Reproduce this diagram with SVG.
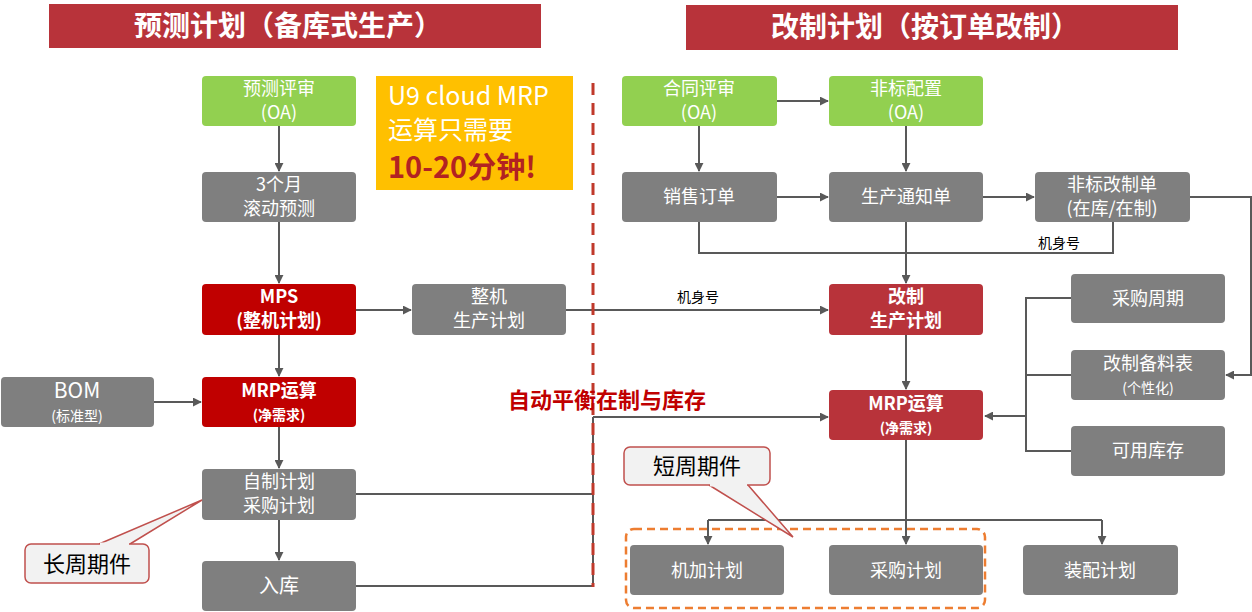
<svg xmlns="http://www.w3.org/2000/svg" width="1252" height="612" viewBox="0 0 1252 612">
<defs>
<marker id="ah" viewBox="0 0 10 10" refX="9" refY="5" markerWidth="4.5" markerHeight="4.5" orient="auto"><path d="M0,0 L10,5 L0,10 z" fill="#595959"/></marker>
<style>
text{font-family:"Noto Sans CJK SC","Liberation Sans",sans-serif;text-anchor:middle}
.g{fill:#7f7f7f}
.gr{fill:#92d050}
.r1{fill:#c00000}
.r2{fill:#b8333a}
.t{fill:#fff;font-size:18px}
.tb{fill:#fff;font-size:18px;font-weight:bold}
.ts{fill:#fff;font-size:14px}
.tsb{fill:#fff;font-size:14px;font-weight:bold}
.c{fill:none;stroke:#595959;stroke-width:2}
.a{marker-end:url(#ah)}
.lbl{fill:#000;font-size:14px}
.title{fill:#fff;font-size:28px;font-weight:bold}
</style>
</defs>
<rect width="1252" height="612" fill="#fff"/>
<g id="title-left"><rect x="49" y="4" width="492" height="44" fill="#b8333a"/><text class="title" x="288" y="36">预测计划（备库式生产）</text></g>
<g id="title-right"><rect x="686" y="5" width="492" height="45" fill="#b8333a"/><text class="title" x="925" y="37">改制计划（按订单改制）</text></g>

<g id="connectors">
<line class="c a" x1="279" y1="126" x2="279" y2="171"/>
<line class="c a" x1="279" y1="222" x2="279" y2="283"/>
<line class="c a" x1="279" y1="335" x2="279" y2="376"/>
<line class="c a" x1="279" y1="427" x2="279" y2="468"/>
<line class="c a" x1="279" y1="520" x2="279" y2="560"/>
<line class="c a" x1="356" y1="310" x2="411" y2="310"/>
<line class="c a" x1="154" y1="402" x2="201" y2="402"/>
<line class="c a" x1="566" y1="310" x2="828" y2="310"/>
<polyline class="c" points="356,494 593,494"/>
<polyline class="c" points="356,586 593,586 593,417"/>
<line class="c a" x1="593" y1="417" x2="828" y2="417"/>
<line class="c a" x1="777" y1="101" x2="828" y2="101"/>
<line class="c a" x1="699" y1="126" x2="699" y2="171"/>
<line class="c a" x1="906" y1="126" x2="906" y2="171"/>
<line class="c a" x1="777" y1="197" x2="828" y2="197"/>
<line class="c a" x1="983" y1="197" x2="1034" y2="197"/>
<polyline class="c" points="699,222 699,253 1113,253 1113,222"/>
<line class="c a" x1="906" y1="222" x2="906" y2="283"/>
<polyline class="c a" points="1190,197 1251,197 1251,375 1226,375"/>
<line class="c a" x1="906" y1="335" x2="906" y2="389"/>
<polyline class="c" points="1071,298 1026,298 1026,451 1071,451"/>
<line class="c" x1="1071" y1="375" x2="1026" y2="375"/>
<line class="c a" x1="1026" y1="416" x2="985" y2="416"/>
<line class="c a" x1="906" y1="440" x2="906" y2="544"/>
<polyline class="c a" points="708,520 708,544"/>
<line class="c" x1="708" y1="520" x2="1102" y2="520"/>
<line class="c a" x1="1102" y1="520" x2="1102" y2="544"/>
<text class="lbl" x="698" y="302">机身号</text>
<text class="lbl" x="1059" y="248">机身号</text>
</g>

<line x1="593" y1="83" x2="593" y2="587" stroke="#c0392b" stroke-width="3" stroke-dasharray="12,8"/>

<g id="yellow-note"><rect x="376" y="76" width="197" height="114" fill="#ffc000"/>
<text x="388" y="105" style="text-anchor:start;fill:#fff;font-size:25px">U9 cloud MRP</text>
<text x="388" y="139" style="text-anchor:start;fill:#fff;font-size:25px">运算只需要</text>
<text x="388" y="178" style="text-anchor:start;fill:#b22222;font-size:29px;font-weight:bold">10-20分钟!</text></g>

<g id="n-yc"><rect class="gr" x="202" y="76" width="154" height="50" rx="4"/><text class="t" x="279" y="95">预测评审</text><text class="t" x="279" y="119">(OA)</text></g>
<g id="n-3m"><rect class="g" x="202" y="172" width="154" height="50" rx="4"/><text class="t" x="279" y="191">3个月</text><text class="t" x="279" y="215">滚动预测</text></g>
<g id="n-mps"><rect class="r1" x="202" y="284" width="154" height="51" rx="4"/><text class="tb" x="279" y="303">MPS</text><text class="tb" x="279" y="327">(整机计划)</text></g>
<g id="n-zj"><rect class="g" x="412" y="284" width="154" height="51" rx="4"/><text class="t" x="489" y="303">整机</text><text class="t" x="489" y="327">生产计划</text></g>
<g id="n-bom"><rect class="g" x="1" y="377" width="153" height="50" rx="4"/><text class="t" x="77" y="398" style="font-size:21px">BOM</text><text class="ts" x="77" y="421">(标准型)</text></g>
<g id="n-mrp1"><rect class="r1" x="202" y="377" width="154" height="50" rx="4"/><text class="tb" x="279" y="397">MRP运算</text><text class="tsb" x="279" y="420">(净需求)</text></g>
<g id="n-zz"><rect class="g" x="202" y="469" width="154" height="51" rx="4"/><text class="t" x="279" y="488">自制计划</text><text class="t" x="279" y="512">采购计划</text></g>
<g id="n-rk"><rect class="g" x="202" y="561" width="154" height="50" rx="4"/><text class="t" x="279" y="593" style="font-size:20px">入库</text></g>
<g id="callout-long"><path d="M99,544 L202,500 L130,544" fill="#f2f2f2" stroke="#c0504d" stroke-width="1.5"/><rect x="25" y="544" width="124" height="39" rx="6" fill="#f2f2f2" stroke="#c0504d" stroke-width="1.5"/><line x1="100" y1="544" x2="129" y2="544" stroke="#f2f2f2" stroke-width="3"/><text x="87" y="572" style="fill:#000;font-size:22px">长周期件</text></g>
<text x="607" y="408" style="fill:#c00000;font-size:22px;font-weight:bold">自动平衡在制与库存</text>

<g id="n-ht"><rect class="gr" x="622" y="76" width="155" height="50" rx="4"/><text class="t" x="699" y="95">合同评审</text><text class="t" x="699" y="119">(OA)</text></g>
<g id="n-fb"><rect class="gr" x="829" y="76" width="154" height="50" rx="4"/><text class="t" x="906" y="95">非标配置</text><text class="t" x="906" y="119">(OA)</text></g>
<g id="n-xs"><rect class="g" x="622" y="172" width="155" height="50" rx="4"/><text class="t" x="699" y="203">销售订单</text></g>
<g id="n-sc"><rect class="g" x="829" y="172" width="154" height="50" rx="4"/><text class="t" x="906" y="203">生产通知单</text></g>
<g id="n-fbgz"><rect class="g" x="1035" y="172" width="155" height="50" rx="4"/><text class="t" x="1112" y="191">非标改制单</text><text class="t" x="1112" y="215">(在库/在制)</text></g>
<g id="n-gz"><rect class="r2" x="829" y="284" width="154" height="51" rx="4"/><text class="tb" x="906" y="303">改制</text><text class="tb" x="906" y="327">生产计划</text></g>
<g id="n-mrp2"><rect class="r2" x="829" y="390" width="154" height="50" rx="4"/><text class="tb" x="906" y="410">MRP运算</text><text class="tsb" x="906" y="433">(净需求)</text></g>
<g id="n-cgzq"><rect class="g" x="1071" y="274" width="154" height="49" rx="4"/><text class="t" x="1148" y="305">采购周期</text></g>
<g id="n-gzbl"><rect class="g" x="1071" y="350" width="154" height="50" rx="4"/><text class="t" x="1148" y="370">改制备料表</text><text class="ts" x="1148" y="393">(个性化)</text></g>
<g id="n-kykc"><rect class="g" x="1071" y="426" width="154" height="50" rx="4"/><text class="t" x="1148" y="457">可用库存</text></g>
<rect x="626" y="529" width="359" height="79" rx="8" fill="none" stroke="#ed7d31" stroke-width="2.5" stroke-dasharray="8,5"/>
<g id="n-jj"><rect class="g" x="630" y="545" width="154" height="50" rx="4"/><text class="t" x="707" y="577">机加计划</text></g>
<g id="n-cg"><rect class="g" x="829" y="545" width="154" height="50" rx="4"/><text class="t" x="906" y="577">采购计划</text></g>
<g id="n-zp"><rect class="g" x="1023" y="545" width="155" height="50" rx="4"/><text class="t" x="1100" y="577">装配计划</text></g>
<g id="callout-short"><path d="M709,485 L793,537 L748,485" fill="#f2f2f2" stroke="#c0504d" stroke-width="1.5"/><rect x="624" y="447" width="146" height="38" rx="6" fill="#f2f2f2" stroke="#c0504d" stroke-width="1.5"/><line x1="710" y1="485" x2="747" y2="485" stroke="#f2f2f2" stroke-width="3"/><text x="697" y="474" style="fill:#000;font-size:22px">短周期件</text></g>
</svg>
